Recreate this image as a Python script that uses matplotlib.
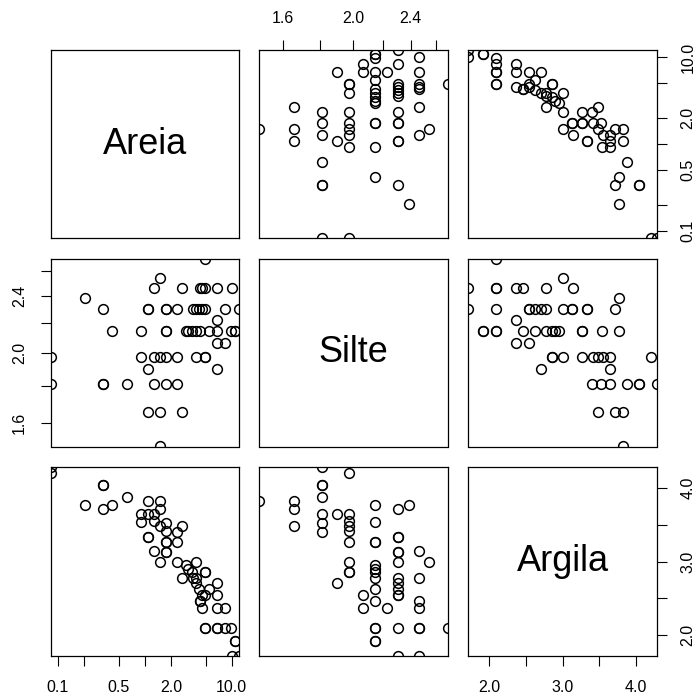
import matplotlib.pyplot as plt

plt.rcParams['font.family'] = ['Liberation Sans', 'DejaVu Sans']

# soil texture data
areia = [1.51,
         2.66, 1.51, 1.09,
         0.083, 0.335, 0.335, 0.625, 1.28, 1.75, 2.33,
         6.76, 1.09,
         0.083, 0.915, 1.28, 1.51, 1.75, 2.33, 3.88, 4.93, 4.93,
         8.30, 6.76,
         0.417, 0.915, 1.75, 1.75, 2.94, 3.12, 3.49, 3.88, 4.36, 5.43, 6.76, 9.9, 11.0, 11.0,
         6.76,
         0.335, 1.09, 1.09, 1.75, 1.75, 2.33, 3.55, 3.90, 4.23, 4.58, 4.93, 8.30, 12.1,
         0.204,
         1.28, 2.66, 4.30, 4.58, 4.93, 6.76, 10.1,
         1.51,
         4.93]
silte = [1.485,
         1.657, 1.657, 1.657,
         1.815, 1.815, 1.815, 1.815, 1.815, 1.815, 1.815,
         1.90, 1.90,
         1.975, 1.975, 1.975, 1.975, 1.975, 1.975, 1.975, 1.975, 1.975,
         2.065, 2.065,
         2.145, 2.145, 2.145, 2.145, 2.145, 2.145, 2.145, 2.145, 2.145, 2.145, 2.145, 2.145, 2.145, 2.145,
         2.225,
         2.305, 2.305, 2.305, 2.305, 2.305, 2.305, 2.305, 2.305, 2.305, 2.305, 2.305, 2.305, 2.305,
         2.385,
         2.465, 2.465, 2.465, 2.465, 2.465, 2.465, 2.465,
         2.545,
         2.70]
argila = [3.83,
          3.48, 3.71, 3.83,
          4.29, 4.05, 4.05, 3.88, 3.65, 3.53, 3.40,
          2.70, 3.65,
          4.21, 3.65, 3.55, 3.48, 3.41, 3.27, 3.00, 2.85, 2.85,
          2.36, 2.54,
          3.77, 3.54, 3.27, 3.27, 2.95, 2.90, 2.85, 2.77, 2.46, 2.62, 2.09, 2.09, 1.91, 1.91,
          2.36,
          3.72, 3.34, 3.34, 3.13, 3.13, 3.00, 2.77, 2.71, 2.63, 2.54, 2.54, 2.09, 1.71,
          3.77,
          3.14, 2.77, 2.46, 2.36, 2.09, 2.09, 1.71,
          3.00,
          2.09]

names = ['Areia', 'Silte', 'Argila']
data = [areia, silte, argila]
log_var = [True, True, False]
ticks = [[0.1, 0.2, 0.5, 1, 2, 5, 10],
         [1.6, 1.8, 2.0, 2.2, 2.4, 2.6],
         [2.0, 2.5, 3.0, 3.5, 4.0]]
tick_labels = [['0.1', '', '0.5', '', '2.0', '', '10.0'],
               ['1.6', '', '2.0', '', '2.4', ''],
               ['2.0', '', '3.0', '', '4.0']]

W, H = 696, 699
col_x = [(50.7, 239), (259, 448), (468, 657)]
row_y = [(50, 238), (259, 446.5), (467, 656)]

fig = plt.figure(figsize=(W / 100, H / 100), dpi=100)

tick_kw = dict(length=7, width=0.8, labelsize=11.5, color='black', pad=10)

for i in range(3):
    for j in range(3):
        x0, x1 = col_x[j]
        y0, y1 = row_y[i]
        ax = fig.add_axes([x0 / W, 1 - y1 / H, (x1 - x0) / W, (y1 - y0) / H])
        for s in ax.spines.values():
            s.set_linewidth(0.9)
        xv, yv = data[j], data[i]
        if log_var[j]:
            ax.set_xscale('log')
        if log_var[i]:
            ax.set_yscale('log')
        ax.set_xlim(min(xv), max(xv))
        ax.set_ylim(min(yv), max(yv))
        ax.minorticks_off()
        ax.set_xticks([])
        ax.set_yticks([])

        if i == j:
            ax.text(0.5, 0.5, names[i], transform=ax.transAxes,
                    ha='center', va='center', fontsize=26)
        else:
            ax.plot(xv, yv, 'o', mfc='none', mec='black', ms=7, mew=1.1)

        # axes alternate around the outside, like R's pairs()
        if i == 0 and j % 2 == 1:
            ax.set_xticks(ticks[j], tick_labels[j])
            ax.xaxis.tick_top()
            ax.tick_params(axis='x', **tick_kw)
        if i == 2 and j % 2 == 0:
            ax.set_xticks(ticks[j], tick_labels[j])
            ax.tick_params(axis='x', **tick_kw)
        if j == 0 and i % 2 == 1:
            ax.set_yticks(ticks[i], tick_labels[i])
            ax.tick_params(axis='y', **tick_kw)
            plt.setp(ax.get_yticklabels(), rotation=90, va='center')
        if j == 2 and i % 2 == 0:
            ax.set_yticks(ticks[i], tick_labels[i])
            ax.yaxis.tick_right()
            ax.tick_params(axis='y', **tick_kw)
            plt.setp(ax.get_yticklabels(), rotation=90, va='center')
        ax.minorticks_off()

fig.savefig('out.png', dpi=100)
